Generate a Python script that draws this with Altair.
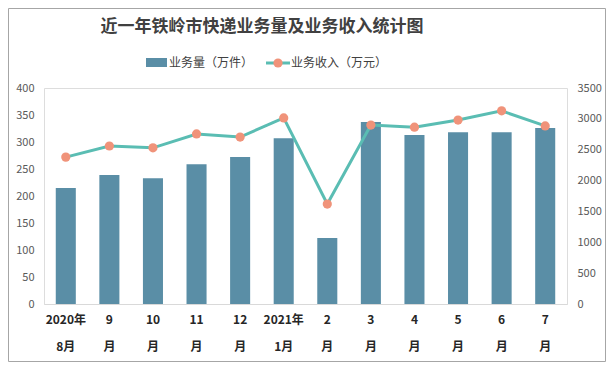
import altair as alt
import pandas as pd

months = ["2020年\n8月", "9\n月", "10\n月", "11\n月", "12\n月", "2021年\n1月",
          "2\n月", "3\n月", "4\n月", "5\n月", "6\n月", "7\n月"]
volume = [215, 239, 233, 259, 272, 307, 122, 337, 313, 318, 318, 326]
revenue = [2380, 2560, 2530, 2755, 2705, 3015, 1620, 2900, 2865, 2980, 3130, 2885]

FONT = "Noto Sans CJK SC"
W, H = 523, 216

df = pd.DataFrame({"month": months, "volume": volume, "revenue": revenue})
one = pd.DataFrame({"a": [0]})

x_enc = alt.X("month:N", sort=None, title=None,
              scale=alt.Scale(paddingInner=0.54, paddingOuter=0.27),
              axis=alt.Axis(labelAngle=0, ticks=False, domainColor="#D9D9D9",
                            labelExpr="split(datum.label, '\\n')",
                            labelFont=FONT, labelFontSize=12, labelFontWeight="bold",
                            labelColor="#262626", labelLineHeight=27,
                            labelPadding=10, labelBaseline="top",
                            labelOverlap=False, labelBound=False))

bars = alt.Chart(df).mark_bar(color="#5A8EA6").encode(
    x=x_enc,
    y=alt.Y("volume:Q", title=None,
            scale=alt.Scale(domain=[0, 400], nice=False),
            axis=alt.Axis(values=list(range(0, 401, 50)), grid=False, ticks=False,
                          domain=False, labelFont=FONT, labelFontSize=11,
                          labelColor="#595959", labelPadding=10)),
)

y_right = alt.Y("revenue:Q", title=None,
                scale=alt.Scale(domain=[0, 3500], nice=False),
                axis=alt.Axis(orient="right", values=list(range(0, 3501, 500)), format="d",
                              grid=False, ticks=False, domain=False, labelFont=FONT,
                              labelFontSize=11, labelColor="#595959", labelPadding=10))

line = alt.Chart(df).mark_line(color="#5ABDB3", strokeWidth=3).encode(x=x_enc, y=y_right)
pts = alt.Chart(df).mark_point(filled=True, color="#F0937A", size=85, opacity=1).encode(
    x=x_enc, y=y_right)
right = alt.layer(line, pts)

title = alt.Chart(one).mark_text(font=FONT, fontSize=17, fontWeight="bold",
                                 color="#404040").encode(
    x=alt.value(218), y=alt.value(-61), text=alt.value("近一年铁岭市快递业务量及业务收入统计图"))

leg_bar = alt.Chart(one).mark_rect(color="#5A8EA6").encode(
    x=alt.value(102), x2=alt.value(123), y=alt.value(-30), y2=alt.value(-21))
leg_bar_t = alt.Chart(one).mark_text(font=FONT, fontSize=12, color="#404040", align="left").encode(
    x=alt.value(125), y=alt.value(-25), text=alt.value("业务量（万件）"))
leg_line = alt.Chart(one).mark_rule(color="#5ABDB3", strokeWidth=3).encode(
    x=alt.value(222), x2=alt.value(246), y=alt.value(-25))
leg_pt = alt.Chart(one).mark_point(filled=True, color="#F0937A", size=85, opacity=1).encode(
    x=alt.value(234), y=alt.value(-25))
leg_line_t = alt.Chart(one).mark_text(font=FONT, fontSize=12, color="#404040", align="left").encode(
    x=alt.value(247), y=alt.value(-25), text=alt.value("业务收入（万元）"))

frame = alt.Chart(one).mark_rect(fill=None, stroke="#A6A6A6", strokeWidth=1).encode(
    x=alt.value(-35.5), x2=alt.value(W + 38.5), y=alt.value(-79.5), y2=alt.value(H + 57.5))

chart = alt.layer(bars, right, title, leg_bar, leg_bar_t, leg_line, leg_pt, leg_line_t, frame
).resolve_scale(y="independent").properties(
    width=W, height=H,
    autosize=alt.AutoSizeParams(type="none"),
    padding={"left": 36, "top": 80, "right": 40, "bottom": 59},
).configure_view(stroke=None).configure(background="white")

chart.save("out.html", embed_options={"renderer": "svg", "actions": False})
